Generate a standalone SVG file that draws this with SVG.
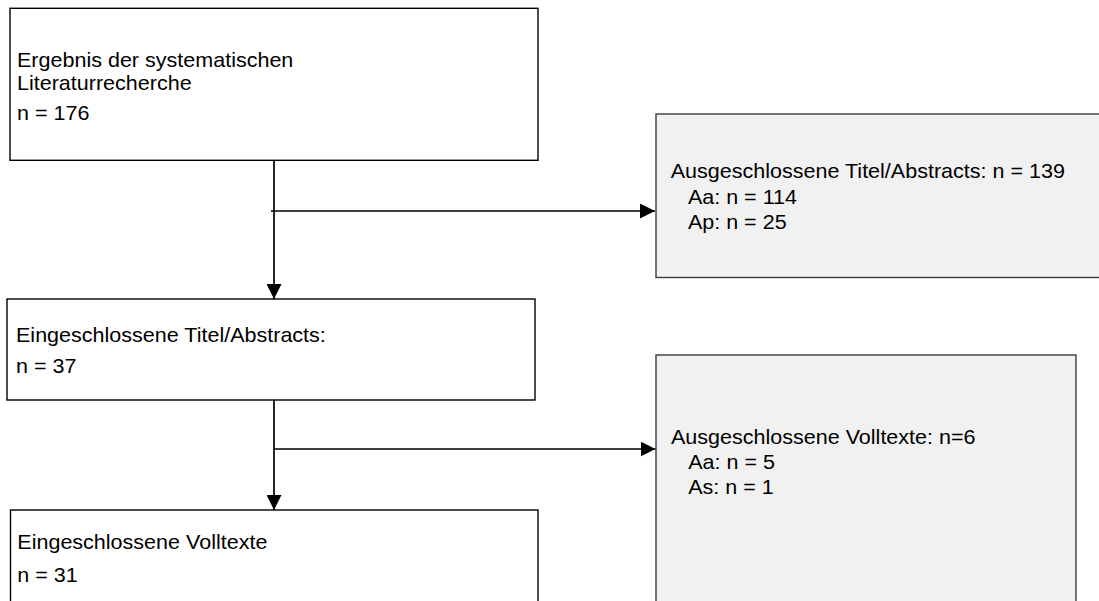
<svg xmlns="http://www.w3.org/2000/svg" width="1099" height="601" viewBox="0 0 1099 601">
  <defs>
    <marker id="arrow" viewBox="0 0 15 15" refX="15" refY="7.5" markerWidth="15" markerHeight="15" markerUnits="userSpaceOnUse" orient="auto">
      <path d="M0,0 L15,7.5 L0,15 Z" fill="#000"/>
    </marker>
    <style>
      .box { fill: #ffffff; stroke: #000000; stroke-width: 1.4; }
      .excl { fill: #f1f1f1; stroke: #3c3c3c; stroke-width: 1.4; }
      .lbl { font-family: "Liberation Sans", Arial, sans-serif; font-size: 19.4px; fill: #000000; }
      .edge { fill: none; stroke: #000000; stroke-width: 1.7; }
    </style>
  </defs>
  <rect width="1099" height="601" fill="#ffffff"/>

  <!-- search result -->
  <g id="node-search">
    <rect class="box" x="10" y="8.3" width="528" height="152"/>
    <g transform="translate(17,0) scale(1.11,1)">
      <text class="lbl" x="0" y="66.7">Ergebnis der systematischen</text>
      <text class="lbl" x="0" y="90">Literaturrecherche</text>
      <text class="lbl" x="0" y="120">n = 176</text>
    </g>
  </g>

  <!-- excluded titles / abstracts -->
  <g id="node-excl-abstracts">
    <rect class="excl" x="656" y="114" width="460" height="163.5"/>
    <g transform="translate(670.7,0) scale(1.11,1)">
      <text class="lbl" x="0" y="178.3">Ausgeschlossene Titel/Abstracts: n = 139</text>
      <text class="lbl" x="15.5" y="204">Aa: n = 114</text>
      <text class="lbl" x="15.5" y="229">Ap: n = 25</text>
    </g>
  </g>

  <!-- included titles / abstracts -->
  <g id="node-incl-abstracts">
    <rect class="box" x="7" y="299" width="528" height="101"/>
    <g transform="translate(16,0) scale(1.11,1)">
      <text class="lbl" x="0" y="341.7">Eingeschlossene Titel/Abstracts:</text>
      <text class="lbl" x="0" y="373.3">n = 37</text>
    </g>
  </g>

  <!-- excluded full texts -->
  <g id="node-excl-fulltexts">
    <rect class="excl" x="656" y="355" width="420" height="270"/>
    <g transform="translate(671,0) scale(1.11,1)">
      <text class="lbl" x="0" y="444">Ausgeschlossene Volltexte: n=6</text>
      <text class="lbl" x="15.5" y="469">Aa: n = 5</text>
      <text class="lbl" x="15.5" y="494">As: n = 1</text>
    </g>
  </g>

  <!-- included full texts -->
  <g id="node-incl-fulltexts">
    <rect class="box" x="10.5" y="510" width="527.5" height="120"/>
    <g transform="translate(17.3,0) scale(1.11,1)">
      <text class="lbl" x="0" y="549.3">Eingeschlossene Volltexte</text>
      <text class="lbl" x="0" y="581.7">n = 31</text>
    </g>
  </g>

  <!-- connectors -->
  <g id="connectors">
    <line class="edge" x1="274" y1="160.3" x2="274" y2="299" marker-end="url(#arrow)"/>
    <line class="edge" x1="271" y1="211" x2="655" y2="211" marker-end="url(#arrow)"/>
    <line class="edge" x1="274" y1="400" x2="274" y2="510" marker-end="url(#arrow)"/>
    <line class="edge" x1="274" y1="449" x2="655.5" y2="449" marker-end="url(#arrow)"/>
  </g>
</svg>
